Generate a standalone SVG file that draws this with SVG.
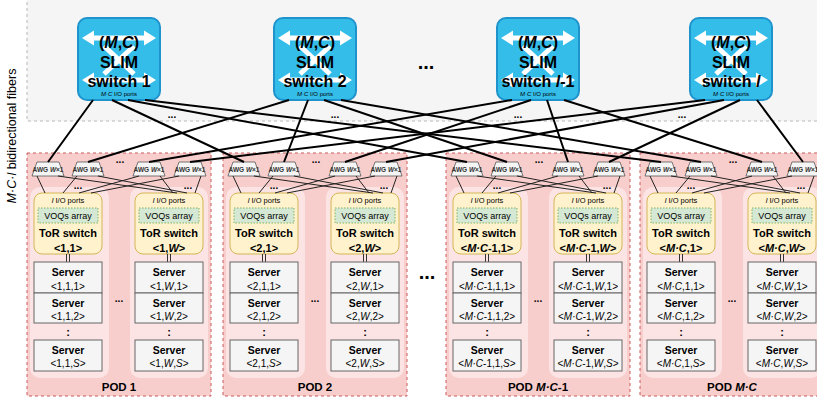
<svg xmlns="http://www.w3.org/2000/svg" xmlns:xlink="http://www.w3.org/1999/xlink" width="817" height="401" viewBox="0 0 817 401">
<style>
text{font-family:"Liberation Sans",Arial,sans-serif;fill:#000;text-anchor:middle}
.b{font-weight:bold}
.i{font-style:italic}
.sw{fill:#35bdea;stroke:#1f93cc;stroke-width:2}
.swt{font-size:16px;font-weight:bold}
.swp{font-size:6px}
.pod{fill:#f8cecc;stroke:#c85a5a;stroke-width:1;stroke-dasharray:3 3}
.col{fill:#fbe4e3}
.awg{fill:#f5f5f5;stroke:#555;stroke-width:0.8}
.awgt{font-size:6.5px;font-weight:bold;fill:#333}
.tor{fill:#fff2cc;stroke:#d6b656;stroke-width:1}
.voq{fill:#d5e8d4;stroke:#82b366;stroke-width:1;stroke-dasharray:1.5 1.5}
.srv{fill:#f5f5f5;stroke:#666;stroke-width:1}
.fib{stroke:#000;stroke-width:2;fill:none}
.tl{stroke:#222;stroke-width:1;fill:none}
.dl{stroke:#333;stroke-width:1}
.dots{font-size:10px;font-weight:bold}
</style>
<defs>
<path id="dbl" d="M-37,0 L-25,-7.5 L-25,-2.5 L25,-2.5 L25,-7.5 L37,0 L25,7.5 L25,2.5 L-25,2.5 L-25,7.5 Z" fill="#fff"/>
<g id="swicon">
<use xlink:href="#dbl" href="#dbl" transform="translate(0,38)"/>
<use xlink:href="#dbl" href="#dbl" transform="translate(0,80)"/>
<path d="M-15,46 L15,74 M15,46 L-15,74" stroke="#fff" stroke-width="5" fill="none"/>
</g>
</defs>
<rect x="0" y="0" width="817" height="401" fill="#fff"/>
<rect id="core-area" x="27" y="-5" width="800" height="126" fill="#f5f5f5" stroke="#b8b8b8" stroke-dasharray="3 3"/>
<text x="16" y="136" font-size="12.5" transform="rotate(-90 16 136)"><tspan class="i">M·C·l</tspan> bidirectional fibers</text>

<g id="switch-1" transform="translate(119,0)">
<rect class="sw" x="-41" y="18" width="82" height="82" rx="9"/>
<use xlink:href="#swicon" href="#swicon"/>
<text class="swt" y="48">(<tspan class="i">M</tspan>,<tspan class="i">C</tspan>)</text>
<text class="swt" y="68">SLIM</text>
<text class="swt" y="87">switch 1</text>
<text class="swp" y="96"><tspan class="i">M·C</tspan> I/O ports</text>
</g>
<g id="switch-2" transform="translate(315,0)">
<rect class="sw" x="-41" y="18" width="82" height="82" rx="9"/>
<use xlink:href="#swicon" href="#swicon"/>
<text class="swt" y="48">(<tspan class="i">M</tspan>,<tspan class="i">C</tspan>)</text>
<text class="swt" y="68">SLIM</text>
<text class="swt" y="87">switch 2</text>
<text class="swp" y="96"><tspan class="i">M·C</tspan> I/O ports</text>
</g>
<g id="switch-l-1" transform="translate(538,0)">
<rect class="sw" x="-41" y="18" width="82" height="82" rx="9"/>
<use xlink:href="#swicon" href="#swicon"/>
<text class="swt" y="48">(<tspan class="i">M</tspan>,<tspan class="i">C</tspan>)</text>
<text class="swt" y="68">SLIM</text>
<text class="swt" y="87">switch <tspan class="i">l</tspan>-1</text>
<text class="swp" y="96"><tspan class="i">M·C</tspan> I/O ports</text>
</g>
<g id="switch-l" transform="translate(731,0)">
<rect class="sw" x="-41" y="18" width="82" height="82" rx="9"/>
<use xlink:href="#swicon" href="#swicon"/>
<text class="swt" y="48">(<tspan class="i">M</tspan>,<tspan class="i">C</tspan>)</text>
<text class="swt" y="68">SLIM</text>
<text class="swt" y="87">switch <tspan class="i">l</tspan></text>
<text class="swp" y="96"><tspan class="i">M·C</tspan> I/O ports</text>
</g>
<text class="b" x="426" y="69" font-size="20">...</text>
<text class="dots" x="172" y="118">...</text>
<text class="dots" x="335" y="118">...</text>
<text class="dots" x="518" y="118">...</text>
<text class="dots" x="682" y="118">...</text>

<g id="pod-1" transform="translate(27,0)">
<rect class="pod" x="0" y="153" width="184" height="243"/>
<rect class="col" x="3" y="187" width="79" height="191" rx="10"/>
<rect class="col" x="103" y="187" width="78" height="191" rx="10"/>
<polygon class="awg" points="10,162 32,162 37,176 5,176"/><text class="awgt" x="21" y="172">AWG <tspan class="i">W</tspan>×1</text>
<polygon class="awg" points="50,162 72,162 77,176 45,176"/><text class="awgt" x="61" y="172">AWG <tspan class="i">W</tspan>×1</text>
<polygon class="awg" points="111,162 133,162 138,176 106,176"/><text class="awgt" x="122" y="172">AWG <tspan class="i">W</tspan>×1</text>
<polygon class="awg" points="152,162 174,162 179,176 147,176"/><text class="awgt" x="163" y="172">AWG <tspan class="i">W</tspan>×1</text>
<text class="dots" x="93" y="163">...</text>
<text class="dots" x="51" y="189">...</text>
<text class="dots" x="161" y="189">...</text>
<rect class="tor" x="7" y="193" width="68" height="61" rx="8"/>
<text x="41" y="203" font-size="7.5"><tspan class="i">l</tspan> I/O ports</text>
<rect class="voq" x="11" y="208" width="60" height="15"/>
<text x="41" y="219" font-size="9">VOQs array</text>
<text class="b" x="41" y="237" font-size="11">ToR switch</text>
<text class="b" x="41" y="252" font-size="11">&lt;1,1&gt;</text>
<rect class="tor" x="108" y="193" width="68" height="61" rx="8"/>
<text x="142" y="203" font-size="7.5"><tspan class="i">l</tspan> I/O ports</text>
<rect class="voq" x="112" y="208" width="60" height="15"/>
<text x="142" y="219" font-size="9">VOQs array</text>
<text class="b" x="142" y="237" font-size="11">ToR switch</text>
<text class="b" x="142" y="252" font-size="11">&lt;1,<tspan class="i">W</tspan>&gt;</text>
<path class="dl" d="M39.5,254V262M42.5,254V262M140.5,254V262M143.5,254V262"/>
<rect class="srv" x="7" y="262" width="68" height="31"/><text class="b" x="41" y="276" font-size="10.5">Server</text><text x="41" y="290" font-size="10">&lt;1,1,1&gt;</text>
<rect class="srv" x="7" y="293" width="68" height="30"/><text class="b" x="41" y="307" font-size="10.5">Server</text><text x="41" y="320" font-size="10">&lt;1,1,2&gt;</text>
<text class="b" x="41" y="336" font-size="11">:</text>
<rect class="srv" x="7" y="340" width="68" height="31"/><text class="b" x="41" y="354" font-size="10.5">Server</text><text x="41" y="367" font-size="10">&lt;1,1,<tspan class="i">S</tspan>&gt;</text>
<rect class="srv" x="108" y="262" width="68" height="31"/><text class="b" x="142" y="276" font-size="10.5">Server</text><text x="142" y="290" font-size="10">&lt;1,<tspan class="i">W</tspan>,1&gt;</text>
<rect class="srv" x="108" y="293" width="68" height="30"/><text class="b" x="142" y="307" font-size="10.5">Server</text><text x="142" y="320" font-size="10">&lt;1,<tspan class="i">W</tspan>,2&gt;</text>
<text class="b" x="142" y="336" font-size="11">:</text>
<rect class="srv" x="108" y="340" width="68" height="31"/><text class="b" x="142" y="354" font-size="10.5">Server</text><text x="142" y="367" font-size="10">&lt;1,<tspan class="i">W</tspan>,<tspan class="i">S</tspan>&gt;</text>
<text class="dots" x="92" y="302">...</text>
<text class="b" x="92" y="391" font-size="11.5">POD 1</text>
</g>

<g id="pod-2" transform="translate(223,0)">
<rect class="pod" x="0" y="153" width="184" height="243"/>
<rect class="col" x="3" y="187" width="79" height="191" rx="10"/>
<rect class="col" x="103" y="187" width="78" height="191" rx="10"/>
<polygon class="awg" points="10,162 32,162 37,176 5,176"/><text class="awgt" x="21" y="172">AWG <tspan class="i">W</tspan>×1</text>
<polygon class="awg" points="50,162 72,162 77,176 45,176"/><text class="awgt" x="61" y="172">AWG <tspan class="i">W</tspan>×1</text>
<polygon class="awg" points="111,162 133,162 138,176 106,176"/><text class="awgt" x="122" y="172">AWG <tspan class="i">W</tspan>×1</text>
<polygon class="awg" points="152,162 174,162 179,176 147,176"/><text class="awgt" x="163" y="172">AWG <tspan class="i">W</tspan>×1</text>
<text class="dots" x="93" y="163">...</text>
<text class="dots" x="51" y="189">...</text>
<text class="dots" x="161" y="189">...</text>
<rect class="tor" x="7" y="193" width="68" height="61" rx="8"/>
<text x="41" y="203" font-size="7.5"><tspan class="i">l</tspan> I/O ports</text>
<rect class="voq" x="11" y="208" width="60" height="15"/>
<text x="41" y="219" font-size="9">VOQs array</text>
<text class="b" x="41" y="237" font-size="11">ToR switch</text>
<text class="b" x="41" y="252" font-size="11">&lt;2,1&gt;</text>
<rect class="tor" x="108" y="193" width="68" height="61" rx="8"/>
<text x="142" y="203" font-size="7.5"><tspan class="i">l</tspan> I/O ports</text>
<rect class="voq" x="112" y="208" width="60" height="15"/>
<text x="142" y="219" font-size="9">VOQs array</text>
<text class="b" x="142" y="237" font-size="11">ToR switch</text>
<text class="b" x="142" y="252" font-size="11">&lt;2,<tspan class="i">W</tspan>&gt;</text>
<path class="dl" d="M39.5,254V262M42.5,254V262M140.5,254V262M143.5,254V262"/>
<rect class="srv" x="7" y="262" width="68" height="31"/><text class="b" x="41" y="276" font-size="10.5">Server</text><text x="41" y="290" font-size="10">&lt;2,1,1&gt;</text>
<rect class="srv" x="7" y="293" width="68" height="30"/><text class="b" x="41" y="307" font-size="10.5">Server</text><text x="41" y="320" font-size="10">&lt;2,1,2&gt;</text>
<text class="b" x="41" y="336" font-size="11">:</text>
<rect class="srv" x="7" y="340" width="68" height="31"/><text class="b" x="41" y="354" font-size="10.5">Server</text><text x="41" y="367" font-size="10">&lt;2,1,<tspan class="i">S</tspan>&gt;</text>
<rect class="srv" x="108" y="262" width="68" height="31"/><text class="b" x="142" y="276" font-size="10.5">Server</text><text x="142" y="290" font-size="10">&lt;2,<tspan class="i">W</tspan>,1&gt;</text>
<rect class="srv" x="108" y="293" width="68" height="30"/><text class="b" x="142" y="307" font-size="10.5">Server</text><text x="142" y="320" font-size="10">&lt;2,<tspan class="i">W</tspan>,2&gt;</text>
<text class="b" x="142" y="336" font-size="11">:</text>
<rect class="srv" x="108" y="340" width="68" height="31"/><text class="b" x="142" y="354" font-size="10.5">Server</text><text x="142" y="367" font-size="10">&lt;2,<tspan class="i">W</tspan>,<tspan class="i">S</tspan>&gt;</text>
<text class="dots" x="92" y="302">...</text>
<text class="b" x="92" y="391" font-size="11.5">POD 2</text>
</g>

<g id="pod-MC-1" transform="translate(446,0)">
<rect class="pod" x="0" y="153" width="184" height="243"/>
<rect class="col" x="3" y="187" width="79" height="191" rx="10"/>
<rect class="col" x="103" y="187" width="78" height="191" rx="10"/>
<polygon class="awg" points="10,162 32,162 37,176 5,176"/><text class="awgt" x="21" y="172">AWG <tspan class="i">W</tspan>×1</text>
<polygon class="awg" points="50,162 72,162 77,176 45,176"/><text class="awgt" x="61" y="172">AWG <tspan class="i">W</tspan>×1</text>
<polygon class="awg" points="111,162 133,162 138,176 106,176"/><text class="awgt" x="122" y="172">AWG <tspan class="i">W</tspan>×1</text>
<polygon class="awg" points="152,162 174,162 179,176 147,176"/><text class="awgt" x="163" y="172">AWG <tspan class="i">W</tspan>×1</text>
<text class="dots" x="93" y="163">...</text>
<text class="dots" x="51" y="189">...</text>
<text class="dots" x="161" y="189">...</text>
<rect class="tor" x="7" y="193" width="68" height="61" rx="8"/>
<text x="41" y="203" font-size="7.5"><tspan class="i">l</tspan> I/O ports</text>
<rect class="voq" x="11" y="208" width="60" height="15"/>
<text x="41" y="219" font-size="9">VOQs array</text>
<text class="b" x="41" y="237" font-size="11">ToR switch</text>
<text class="b" x="41" y="252" font-size="11">&lt;<tspan class="i">M·C</tspan>-1,1&gt;</text>
<rect class="tor" x="108" y="193" width="68" height="61" rx="8"/>
<text x="142" y="203" font-size="7.5"><tspan class="i">l</tspan> I/O ports</text>
<rect class="voq" x="112" y="208" width="60" height="15"/>
<text x="142" y="219" font-size="9">VOQs array</text>
<text class="b" x="142" y="237" font-size="11">ToR switch</text>
<text class="b" x="142" y="252" font-size="11">&lt;<tspan class="i">M·C</tspan>-1,<tspan class="i">W</tspan>&gt;</text>
<path class="dl" d="M39.5,254V262M42.5,254V262M140.5,254V262M143.5,254V262"/>
<rect class="srv" x="7" y="262" width="68" height="31"/><text class="b" x="41" y="276" font-size="10.5">Server</text><text x="41" y="290" font-size="10">&lt;<tspan class="i">M·C</tspan>-1,1,1&gt;</text>
<rect class="srv" x="7" y="293" width="68" height="30"/><text class="b" x="41" y="307" font-size="10.5">Server</text><text x="41" y="320" font-size="10">&lt;<tspan class="i">M·C</tspan>-1,1,2&gt;</text>
<text class="b" x="41" y="336" font-size="11">:</text>
<rect class="srv" x="7" y="340" width="68" height="31"/><text class="b" x="41" y="354" font-size="10.5">Server</text><text x="41" y="367" font-size="10">&lt;<tspan class="i">M·C</tspan>-1,1,<tspan class="i">S</tspan>&gt;</text>
<rect class="srv" x="108" y="262" width="68" height="31"/><text class="b" x="142" y="276" font-size="10.5">Server</text><text x="142" y="290" font-size="10">&lt;<tspan class="i">M·C</tspan>-1,<tspan class="i">W</tspan>,1&gt;</text>
<rect class="srv" x="108" y="293" width="68" height="30"/><text class="b" x="142" y="307" font-size="10.5">Server</text><text x="142" y="320" font-size="10">&lt;<tspan class="i">M·C</tspan>-1,<tspan class="i">W</tspan>,2&gt;</text>
<text class="b" x="142" y="336" font-size="11">:</text>
<rect class="srv" x="108" y="340" width="68" height="31"/><text class="b" x="142" y="354" font-size="10.5">Server</text><text x="142" y="367" font-size="10">&lt;<tspan class="i">M·C</tspan>-1,<tspan class="i">W</tspan>,<tspan class="i">S</tspan>&gt;</text>
<text class="dots" x="92" y="302">...</text>
<text class="b" x="92" y="391" font-size="11.5">POD <tspan class="i">M·C</tspan>-1</text>
</g>

<g id="pod-MC" transform="translate(640,0)">
<rect class="pod" x="0" y="153" width="184" height="243"/>
<rect class="col" x="3" y="187" width="79" height="191" rx="10"/>
<rect class="col" x="103" y="187" width="78" height="191" rx="10"/>
<polygon class="awg" points="10,162 32,162 37,176 5,176"/><text class="awgt" x="21" y="172">AWG <tspan class="i">W</tspan>×1</text>
<polygon class="awg" points="50,162 72,162 77,176 45,176"/><text class="awgt" x="61" y="172">AWG <tspan class="i">W</tspan>×1</text>
<polygon class="awg" points="111,162 133,162 138,176 106,176"/><text class="awgt" x="122" y="172">AWG <tspan class="i">W</tspan>×1</text>
<polygon class="awg" points="152,162 174,162 179,176 147,176"/><text class="awgt" x="163" y="172">AWG <tspan class="i">W</tspan>×1</text>
<text class="dots" x="93" y="163">...</text>
<text class="dots" x="51" y="189">...</text>
<text class="dots" x="161" y="189">...</text>
<rect class="tor" x="7" y="193" width="68" height="61" rx="8"/>
<text x="41" y="203" font-size="7.5"><tspan class="i">l</tspan> I/O ports</text>
<rect class="voq" x="11" y="208" width="60" height="15"/>
<text x="41" y="219" font-size="9">VOQs array</text>
<text class="b" x="41" y="237" font-size="11">ToR switch</text>
<text class="b" x="41" y="252" font-size="11">&lt;<tspan class="i">M·C</tspan>,1&gt;</text>
<rect class="tor" x="108" y="193" width="68" height="61" rx="8"/>
<text x="142" y="203" font-size="7.5"><tspan class="i">l</tspan> I/O ports</text>
<rect class="voq" x="112" y="208" width="60" height="15"/>
<text x="142" y="219" font-size="9">VOQs array</text>
<text class="b" x="142" y="237" font-size="11">ToR switch</text>
<text class="b" x="142" y="252" font-size="11">&lt;<tspan class="i">M·C</tspan>,<tspan class="i">W</tspan>&gt;</text>
<path class="dl" d="M39.5,254V262M42.5,254V262M140.5,254V262M143.5,254V262"/>
<rect class="srv" x="7" y="262" width="68" height="31"/><text class="b" x="41" y="276" font-size="10.5">Server</text><text x="41" y="290" font-size="10">&lt;<tspan class="i">M·C</tspan>,1,1&gt;</text>
<rect class="srv" x="7" y="293" width="68" height="30"/><text class="b" x="41" y="307" font-size="10.5">Server</text><text x="41" y="320" font-size="10">&lt;<tspan class="i">M·C</tspan>,1,2&gt;</text>
<text class="b" x="41" y="336" font-size="11">:</text>
<rect class="srv" x="7" y="340" width="68" height="31"/><text class="b" x="41" y="354" font-size="10.5">Server</text><text x="41" y="367" font-size="10">&lt;<tspan class="i">M·C</tspan>,1,<tspan class="i">S</tspan>&gt;</text>
<rect class="srv" x="108" y="262" width="68" height="31"/><text class="b" x="142" y="276" font-size="10.5">Server</text><text x="142" y="290" font-size="10">&lt;<tspan class="i">M·C</tspan>,<tspan class="i">W</tspan>,1&gt;</text>
<rect class="srv" x="108" y="293" width="68" height="30"/><text class="b" x="142" y="307" font-size="10.5">Server</text><text x="142" y="320" font-size="10">&lt;<tspan class="i">M·C</tspan>,<tspan class="i">W</tspan>,2&gt;</text>
<text class="b" x="142" y="336" font-size="11">:</text>
<rect class="srv" x="108" y="340" width="68" height="31"/><text class="b" x="142" y="354" font-size="10.5">Server</text><text x="142" y="367" font-size="10">&lt;<tspan class="i">M·C</tspan>,<tspan class="i">W</tspan>,<tspan class="i">S</tspan>&gt;</text>
<text class="dots" x="92" y="302">...</text>
<text class="b" x="92" y="391" font-size="11.5">POD <tspan class="i">M·C</tspan></text>
</g>

<text class="b" x="427" y="279" font-size="20">...</text>

<g id="connectors">
<g id="fibers" class="fib">
<path d="M93,100L48,162M112,100L244,162M128,100L467,162M145,100L661,162"/>
<path d="M289,100L88,162M308,100L284,162M324,100L507,162M341,100L701,162"/>
<path d="M512,100L149,162M531,100L345,162M547,100L568,162M564,100L762,162"/>
<path d="M705,100L190,162M724,100L386,162M740,100L609,162M757,100L803,162"/>
</g>
<g id="pod-links" class="tl">
<path transform="translate(27,0)" d="M10,176L18,193M31,176L150,193M50,176L36,193M71,176L160,193M112,176L52,193M133,176L146,193M152,176L64,193M174,176L168,193"/>
<path transform="translate(223,0)" d="M10,176L18,193M31,176L150,193M50,176L36,193M71,176L160,193M112,176L52,193M133,176L146,193M152,176L64,193M174,176L168,193"/>
<path transform="translate(446,0)" d="M10,176L18,193M31,176L150,193M50,176L36,193M71,176L160,193M112,176L52,193M133,176L146,193M152,176L64,193M174,176L168,193"/>
<path transform="translate(640,0)" d="M10,176L18,193M31,176L150,193M50,176L36,193M71,176L160,193M112,176L52,193M133,176L146,193M152,176L64,193M174,176L168,193"/>
</g>
</g>
</svg>
